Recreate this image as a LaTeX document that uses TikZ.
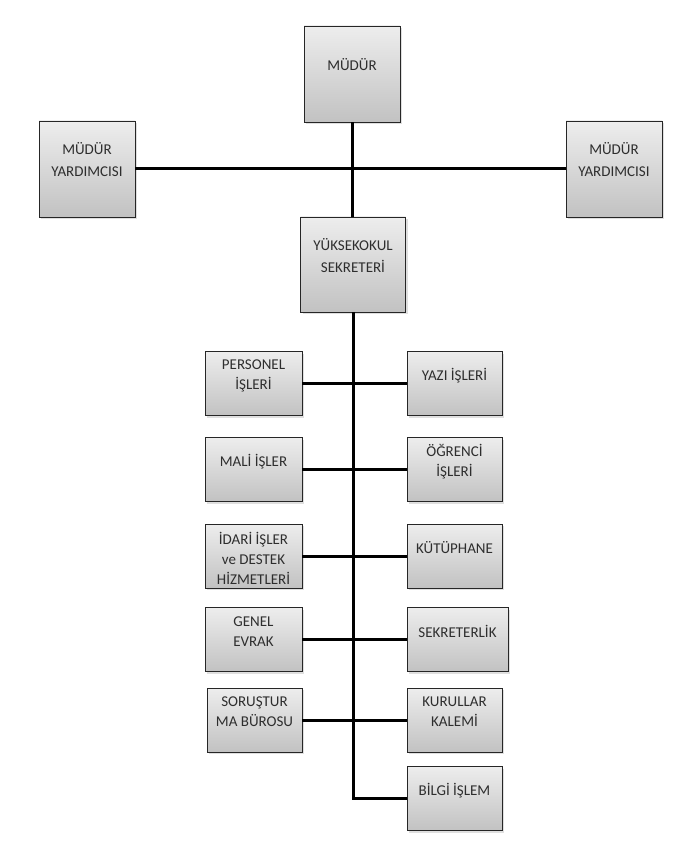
\documentclass[tikz,border=0pt]{standalone}
\usepackage{fontspec}
\setmainfont{Carlito}
\usetikzlibrary{shadows}

\tikzset{
    unit/.style={draw=black!85, line width=0.9pt, minimum width=97pt, minimum height=64pt,
        top color=black!7, bottom color=black!24,
        drop shadow={opacity=0.25, shadow xshift=2pt, shadow yshift=-2pt}},
    bigunit/.style={unit, minimum width=96pt, minimum height=96pt},
    title/.style={align=center, text=black!82, font=\fontsize{15}{20}\selectfont, yshift=8pt},
    bigtitle/.style={align=center, text=black!82, font=\fontsize{15}{22}\selectfont, yshift=9pt},
    link/.style={line width=3pt}
}

\begin{document}
\begin{tikzpicture}[x=1pt, y=-1pt]
    \useasboundingbox (0,0) rectangle (697,850);

    % Top level
    \node[bigunit, label={[bigtitle]center:MÜDÜR}] (mudur) at (352,74) {};
    \node[bigunit, label={[bigtitle]center:MÜDÜR\\YARDIMCISI}] (yard1) at (87,169) {};
    \node[bigunit, label={[bigtitle]center:MÜDÜR\\YARDIMCISI}] (yard2) at (614,169) {};
    \node[bigunit, minimum width=105pt, minimum height=95pt,
        label={[bigtitle]center:YÜKSEKOKUL\\SEKRETERİ}] (sekreter) at (353,264.5) {};

    % Left column
    \node[unit, label={[title]center:PERSONEL\\İŞLERİ}] (personel) at (253.5,383.5) {};
    \node[unit, label={[title]center:MALİ İŞLER}] (mali) at (253.5,469.5) {};
    \node[unit, label={[title, yshift=-10pt]center:İDARİ İŞLER\\ve DESTEK\\HİZMETLERİ}] (idari) at (253.5,556) {};
    \node[unit, label={[title]center:GENEL\\EVRAK}] (genel) at (253.5,639.5) {};
    \node[unit, minimum width=95pt, label={[title]center:SORUŞTUR\\MA BÜROSU}] (sorustur) at (254.5,720) {};

    % Right column
    \node[unit, minimum width=95pt, label={[title]center:YAZI İŞLERİ}] (yazi) at (454.5,383.5) {};
    \node[unit, minimum width=95pt, label={[title]center:ÖĞRENCİ\\İŞLERİ}] (ogrenci) at (454.5,469.5) {};
    \node[unit, minimum width=95pt, label={[title]center:KÜTÜPHANE}] (kutuphane) at (454.5,556) {};
    \node[unit, minimum width=101pt, label={[title]center:SEKRETERLİK}] (sekreterlik) at (457.5,639.5) {};
    \node[unit, minimum width=95pt, label={[title]center:KURULLAR\\KALEMİ}] (kurullar) at (454.5,720) {};
    \node[unit, minimum width=95pt, label={[title]center:BİLGİ İŞLEM}] (bilgi) at (454.5,798.5) {};

    % Connectors
    \draw[link] (mudur.south) -- (mudur.south |- sekreter.north);
    \draw[link] (yard1.east) -- (yard2.west);
    \draw[link] (sekreter.south) |- (bilgi.west);
    \draw[link] (personel.east) -- (yazi.west);
    \draw[link] (mali.east) -- (ogrenci.west);
    \draw[link] (idari.east) -- (kutuphane.west);
    \draw[link] (genel.east) -- (sekreterlik.west);
    \draw[link] (sorustur.east) -- (kurullar.west);
\end{tikzpicture}
\end{document}
